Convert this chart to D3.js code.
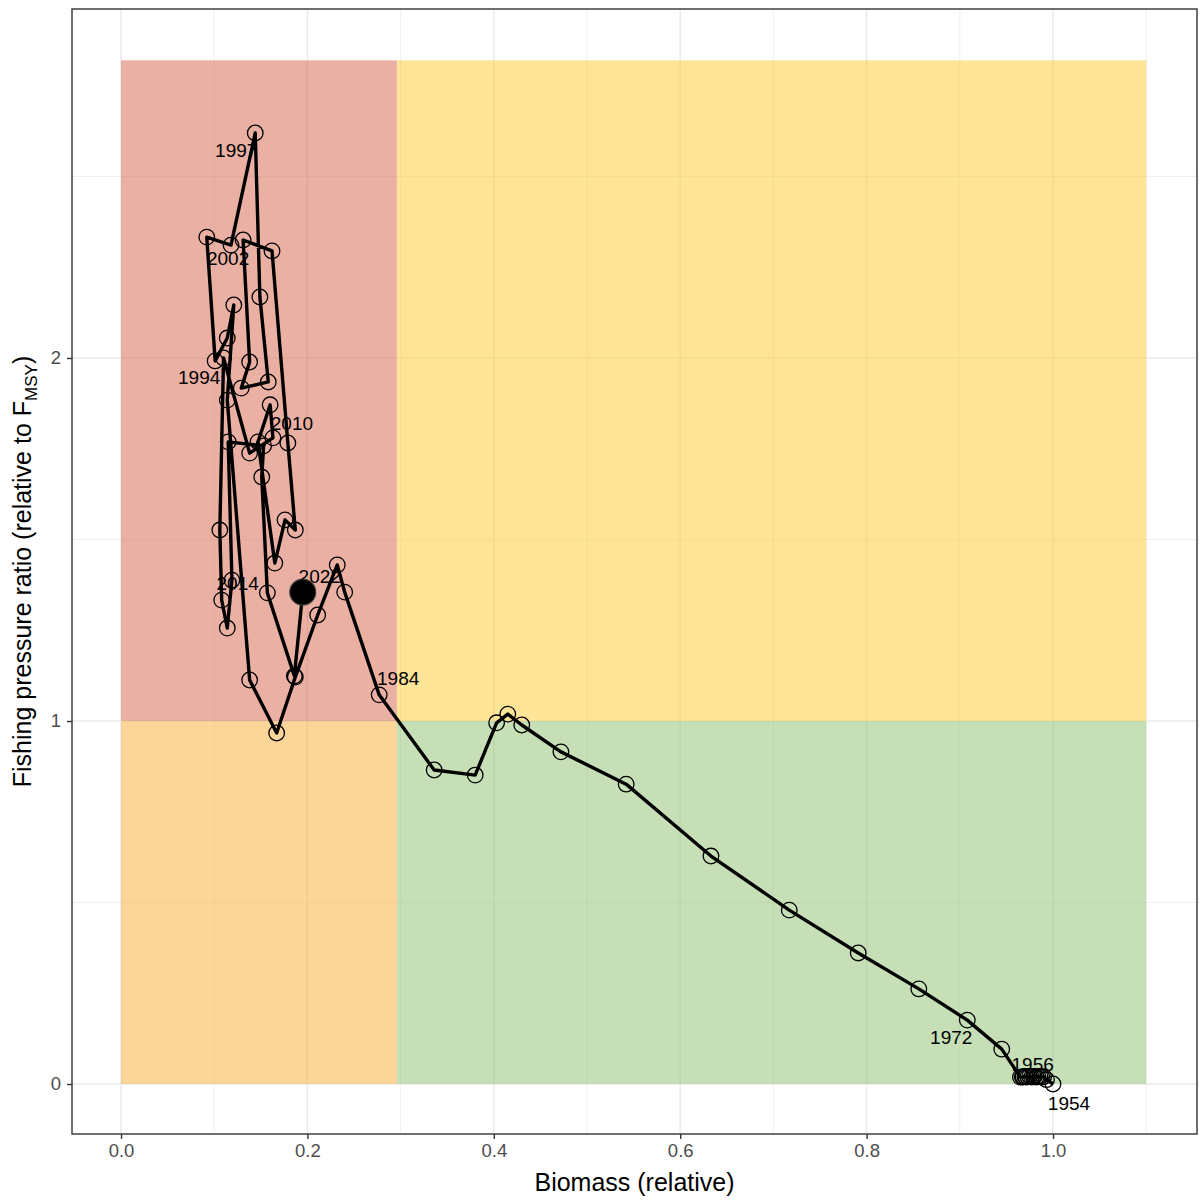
<!DOCTYPE html>
<html><head><meta charset="utf-8">
<script src="https://cdn.jsdelivr.net/npm/d3@7"></script>
<style>body{margin:0;background:#fff;} svg{display:block;font-family:"Liberation Sans",Arial,sans-serif;}</style>
</head><body>
<svg id="chart" width="1200" height="1200"></svg>
<script>
// ---- data ----
const years = d3.range(1954, 2023);
const biomass = [
  1.000, 0.993, 0.990, 0.988, 0.986, 0.984, 0.982, 0.980, 0.979, 0.977, 0.975, 0.973, 0.971, 0.970, 0.968, 0.967,
  0.965, 0.945, 0.908, 0.856, 0.791, 0.717, 0.633, 0.542, 0.472, 0.430, 0.415, 0.403, 0.380, 0.336, 0.277,
  0.240, 0.232, 0.211, 0.187, 0.167, 0.138, 0.114, 0.121, 0.114, 0.101, 0.092, 0.118, 0.144, 0.149, 0.158,
  0.129, 0.138, 0.131, 0.162, 0.179, 0.187, 0.176, 0.165, 0.147, 0.160, 0.163, 0.138, 0.110, 0.106, 0.108,
  0.114, 0.119, 0.115, 0.153, 0.151, 0.157, 0.186, 0.195
];
const fRatio = [
  0.000, 0.012, 0.020, 0.019, 0.021, 0.020, 0.019, 0.021, 0.020, 0.019, 0.021, 0.020, 0.019, 0.021, 0.020, 0.019,
  0.019, 0.096, 0.176, 0.262, 0.361, 0.479, 0.628, 0.826, 0.915, 0.989, 1.019, 0.995, 0.851, 0.865, 1.072,
  1.355, 1.430, 1.292, 1.121, 0.967, 1.113, 1.884, 2.146, 2.055, 1.992, 2.333, 2.311, 2.620, 2.168, 1.934,
  1.917, 1.989, 2.325, 2.295, 1.766, 1.526, 1.554, 1.435, 1.769, 1.871, 1.780, 1.738, 2.000, 1.526, 1.333,
  1.256, 1.388, 1.769, 1.758, 1.672, 1.353, 1.124, 1.355
];
const labelYears = [1954, 1956, 1972, 1984, 1994, 1997, 2002, 2010, 2014, 2022];
const bLimit = [0, 0.296, 1.1];   // biomass zone edges
const fLimit = [0, 1, 2.82];      // F ratio zone edges
const xTicks = [0, 0.2, 0.4, 0.6, 0.8, 1.0];
const xMinor = [0.1, 0.3, 0.5, 0.7, 0.9, 1.1];
const yTicks = [0, 1, 2];
const yMinor = [0.5, 1.5, 2.5];

// ---- layout / style ----
const panel = {left: 72, right: 1197, top: 9, bottom: 1134};
const labelNudge = {
  1954: [16, 19], 1956: [-11, -12], 1972: [-16, 17], 1984: [19, -16], 1994: [-16, 17],
  1997: [-19, 18], 2002: [-15, 18], 2010: [19, -14], 2014: [16, -17], 2022: [17, -16]
};
const zones = [
  {x0: 0, x1: 1, y0: 1, y1: 2, color: "#D76149"},
  {x0: 1, x1: 2, y0: 1, y1: 2, color: "#FBC92D"},
  {x0: 0, x1: 1, y0: 0, y1: 1, color: "#F9AB33"},
  {x0: 1, x1: 2, y0: 0, y1: 1, color: "#8DBF6F"}
];
const FONT = "'Liberation Sans', Arial, sans-serif";

const data = years.map((yr, i) => ({year: yr, b: biomass[i], f: fRatio[i]}));

const svg = d3.select("#chart");
const x = d3.scaleLinear().domain([-0.0526, 1.1545]).range([panel.left, panel.right]);
const y = d3.scaleLinear().domain([-0.1377, 2.9614]).range([panel.bottom, panel.top]);

// background
svg.append("rect").attr("x", panel.left).attr("y", panel.top)
  .attr("width", panel.right - panel.left).attr("height", panel.bottom - panel.top).attr("fill", "#fff");

// grid
const grid = svg.append("g");
grid.selectAll(".xm").data(xMinor).join("line")
  .attr("x1", d => x(d)).attr("x2", d => x(d)).attr("y1", panel.top).attr("y2", panel.bottom)
  .attr("stroke", "#EBEBEB").attr("stroke-width", 0.8);
grid.selectAll(".ym").data(yMinor).join("line")
  .attr("y1", d => y(d)).attr("y2", d => y(d)).attr("x1", panel.left).attr("x2", panel.right)
  .attr("stroke", "#EBEBEB").attr("stroke-width", 0.8);
grid.selectAll(".xM").data(xTicks).join("line")
  .attr("x1", d => x(d)).attr("x2", d => x(d)).attr("y1", panel.top).attr("y2", panel.bottom)
  .attr("stroke", "#EBEBEB").attr("stroke-width", 1.6);
grid.selectAll(".yM").data(yTicks).join("line")
  .attr("y1", d => y(d)).attr("y2", d => y(d)).attr("x1", panel.left).attr("x2", panel.right)
  .attr("stroke", "#EBEBEB").attr("stroke-width", 1.6);

// zones
svg.append("g").selectAll("rect").data(zones).join("rect")
  .attr("x", d => x(bLimit[d.x0])).attr("width", d => x(bLimit[d.x1]) - x(bLimit[d.x0]))
  .attr("y", d => y(fLimit[d.y1])).attr("height", d => y(fLimit[d.y0]) - y(fLimit[d.y1]))
  .attr("fill", d => d.color).attr("fill-opacity", 0.5);

// trajectory
const line = d3.line().x(d => x(d.b)).y(d => y(d.f));
svg.append("path").datum(data).attr("d", line)
  .attr("fill", "none").attr("stroke", "#000").attr("stroke-width", 3.4).attr("stroke-linejoin", "round");

svg.append("g").selectAll("circle").data(data.slice(0, -1)).join("circle")
  .attr("cx", d => x(d.b)).attr("cy", d => y(d.f)).attr("r", 7.8)
  .attr("fill", "none").attr("stroke", "#000").attr("stroke-width", 1.3);

const last = data[data.length - 1];
svg.append("circle").attr("cx", x(last.b)).attr("cy", y(last.f)).attr("r", 13)
  .attr("fill", "#000").attr("stroke", "#444").attr("stroke-width", 1.2);

// labels
svg.append("g").selectAll("text").data(data.filter(d => labelYears.includes(d.year))).join("text")
  .attr("x", d => x(d.b) + labelNudge[d.year][0]).attr("y", d => y(d.f) + labelNudge[d.year][1])
  .attr("text-anchor", "middle").attr("dominant-baseline", "central")
  .style("font-size", "19px").style("font-family", FONT).attr("fill", "#000").text(d => d.year);

// panel border
svg.append("rect").attr("x", panel.left).attr("y", panel.top)
  .attr("width", panel.right - panel.left).attr("height", panel.bottom - panel.top)
  .attr("fill", "none").attr("stroke", "#333333").attr("stroke-width", 1.4);

// axes
const xAxis = svg.append("g").attr("transform", `translate(0,${panel.bottom})`)
  .call(d3.axisBottom(x).tickValues(xTicks).tickFormat(d3.format(".1f")).tickSize(5).tickPadding(5));
const yAxis = svg.append("g").attr("transform", `translate(${panel.left},0)`)
  .call(d3.axisLeft(y).tickValues(yTicks).tickFormat(d3.format("d")).tickSize(5).tickPadding(6));
[xAxis, yAxis].forEach(g => {
  g.attr("font-size", null).attr("font-family", null);
  g.select(".domain").remove();
  g.selectAll(".tick line").attr("stroke", "#333333").attr("stroke-width", 1.4);
  g.selectAll(".tick text").attr("fill", "#4D4D4D")
    .style("font-size", "18.5px").style("font-family", FONT);
});

// axis titles
svg.append("text").attr("x", (panel.left + panel.right) / 2).attr("y", 1191)
  .attr("text-anchor", "middle").style("font-size", "25px").style("font-family", FONT)
  .attr("fill", "#000").text("Biomass (relative)");
const yt = svg.append("text").attr("transform", `translate(31,${(panel.top + panel.bottom) / 2}) rotate(-90)`)
  .attr("text-anchor", "middle").style("font-size", "25px").style("font-family", FONT).attr("fill", "#000");
yt.append("tspan").text("Fishing pressure ratio (relative to F");
yt.append("tspan").style("font-size", "17px").attr("dy", 6).text("MSY");
yt.append("tspan").attr("dy", -6).text(")");
</script>
</body></html>
